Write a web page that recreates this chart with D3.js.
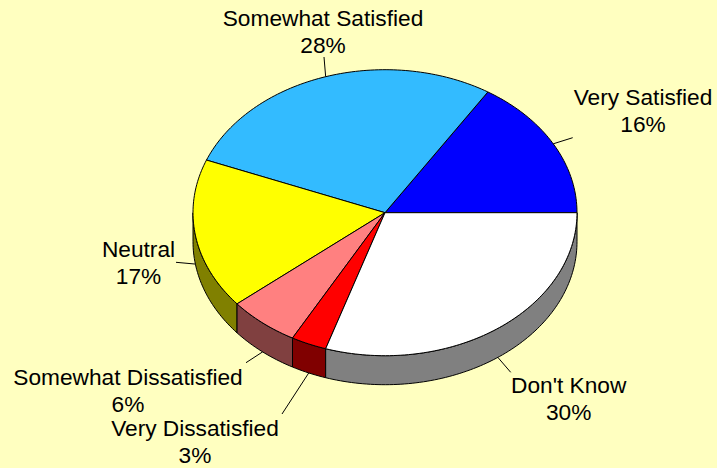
<!DOCTYPE html>
<html>
<head>
<meta charset="utf-8">
<script src="https://cdn.jsdelivr.net/npm/d3@7/dist/d3.min.js"></script>
<style>
  html, body { margin: 0; padding: 0; background: #FFFFC0; }
  svg { display: block; }
  text { font-family: "Liberation Sans", Arial, sans-serif; fill: #000; }
</style>
</head>
<body>
<svg id="chart" width="717" height="468"></svg>
<script>
// Survey responses, in drawing order (counter-clockwise from 3 o'clock)
const categories = ["Very Satisfied", "Somewhat Satisfied", "Neutral",
                    "Somewhat Dissatisfied", "Very Dissatisfied", "Don't Know"];
const values = [16, 28, 17, 6, 3, 30];
const percentLabels = ["16%", "28%", "17%", "6%", "3%", "30%"];

// Face colours and the darker wall colours
const topColors  = ["#0000FF", "#33BBFF", "#FFFF00", "#FF8080", "#FF0000", "#FFFFFF"];
const sideColors = ["#000080", "#1A5E80", "#808000", "#804040", "#800000", "#808080"];

// Label placement: text centre / first baseline, and where the leader ends
const labelLayout = [
  { x: 643, y: 105,   lx: 572.7, ly: 137.7 },
  { x: 323, y: 26,    lx: 324,   ly: 57 },
  { x: 138.5, y: 257.3, lx: 176, ly: 262.3 },
  { x: 128, y: 385,   lx: 246,   ly: 362.7 },
  { x: 195, y: 436,   lx: 282,   ly: 414 },
  { x: 568.7, y: 393.3, lx: 510.7, ly: 372.3 }
];

const W = 717, H = 468;
const cx = 385, cy = 212.7, rx = 192, ry = 143, depth = 29;
const fontSize = 22.7, lineGap = 27;

const svg = d3.select("#chart");
svg.append("rect").attr("width", W).attr("height", H).attr("fill", "#FFFFC0");

// Share of the full turn -> angle (radians), counter-clockwise
const total = d3.sum(values);
const angle = d3.scaleLinear().domain([0, total]).range([0, 2 * Math.PI]);

const slices = [];
let acc = 0;
values.forEach((v, i) => {
  slices.push({ i, a0: angle(acc), a1: angle(acc + v) });
  acc += v;
});

const px = t => cx + rx * Math.cos(t);
const py = t => cy - ry * Math.sin(t);

function arcPoints(a0, a1, dy) {
  const n = Math.max(2, Math.ceil(Math.abs(a1 - a0) / 0.02));
  return d3.range(n + 1).map(k => {
    const t = a0 + (a1 - a0) * k / n;
    return [px(t), py(t) + dy];
  });
}

const line = d3.line();

// Walls: only the front half (angles between PI and 2PI) shows
const gSide = svg.append("g");
slices.forEach(s => {
  const lo = Math.max(s.a0, Math.PI), hi = Math.min(s.a1, 2 * Math.PI);
  if (hi <= lo) return;
  const pts = arcPoints(lo, hi, 0).concat(arcPoints(hi, lo, depth));
  gSide.append("path")
    .attr("d", line(pts) + "Z")
    .attr("fill", sideColors[s.i])
    .attr("stroke", "#000")
    .attr("stroke-width", 1)
    .attr("stroke-linejoin", "round");
});

// Top faces
const gTop = svg.append("g");
slices.forEach(s => {
  const pts = [[cx, cy]].concat(arcPoints(s.a0, s.a1, 0));
  gTop.append("path")
    .attr("d", line(pts) + "Z")
    .attr("fill", topColors[s.i])
    .attr("stroke", "#000")
    .attr("stroke-width", 1)
    .attr("stroke-linejoin", "round");
});

// Leader lines and labels
const gLab = svg.append("g");
slices.forEach(s => {
  const mid = (s.a0 + s.a1) / 2;
  const front = Math.sin(mid) < 0;
  const sx = px(mid), sy = py(mid) + (front ? depth : 0);
  const L = labelLayout[s.i];
  gLab.append("line")
    .attr("x1", sx).attr("y1", sy)
    .attr("x2", L.lx).attr("y2", L.ly)
    .attr("stroke", "#000").attr("stroke-width", 1);
  const t = gLab.append("text")
    .attr("text-anchor", "middle")
    .attr("font-size", fontSize);
  t.append("tspan").attr("x", L.x).attr("y", L.y).text(categories[s.i]);
  t.append("tspan").attr("x", L.x).attr("y", L.y + lineGap).text(percentLabels[s.i]);
});
</script>
</body>
</html>
